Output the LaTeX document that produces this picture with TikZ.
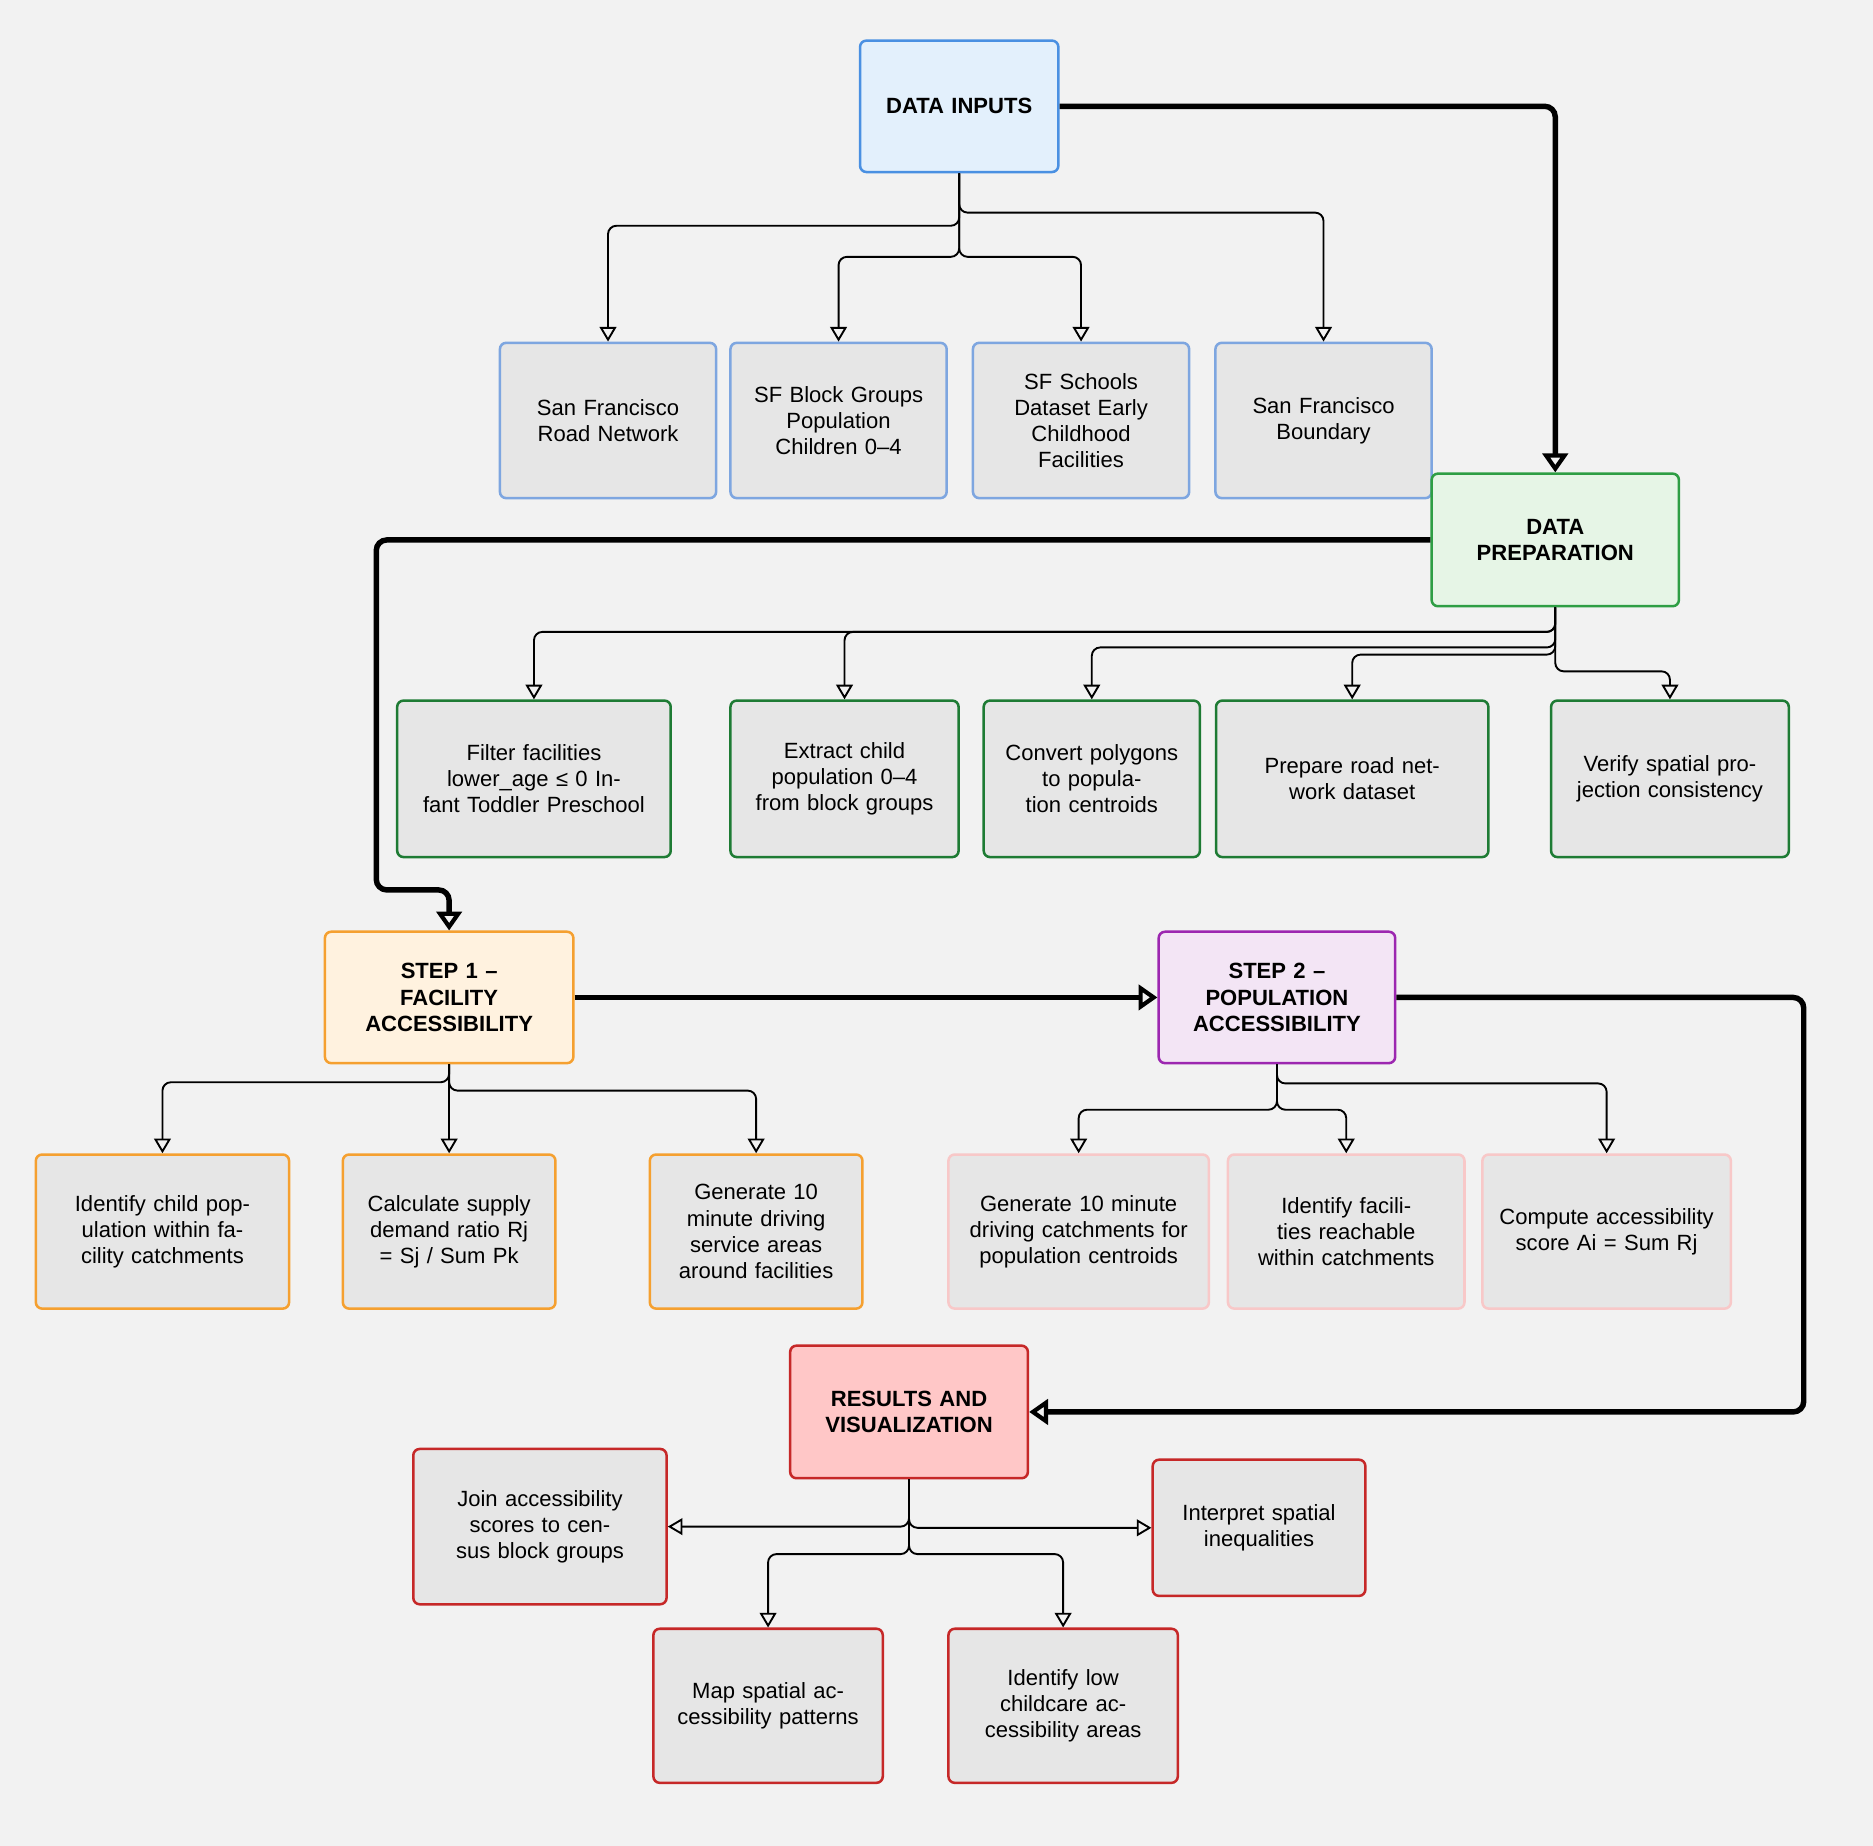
\documentclass[tikz,border=0pt]{standalone}
\usepackage{fontspec}
\setmainfont{Liberation Sans}
\usetikzlibrary{arrows.meta}
\definecolor{bg}{HTML}{F2F2F2}
\definecolor{boxgray}{HTML}{E6E6E6}
\definecolor{inblue}{HTML}{4A90E2}
\definecolor{inblueL}{HTML}{7EA6E0}
\definecolor{infill}{HTML}{E3F0FC}
\definecolor{prepgreen}{HTML}{2E9E44}
\definecolor{prepdark}{HTML}{1E7B34}
\definecolor{prepfill}{HTML}{E6F5E6}
\definecolor{steporange}{HTML}{F5A030}
\definecolor{stepfill}{HTML}{FFF2DF}
\definecolor{steppurple}{HTML}{9C27B0}
\definecolor{purplefill}{HTML}{F3E5F5}
\definecolor{steppink}{HTML}{F8C8C8}
\definecolor{resred}{HTML}{C62828}
\definecolor{resfill}{HTML}{FFC7C7}
\tikzset{
  box/.style 2 args={draw, line width=1.2pt, rounded corners=3pt, fill=boxgray,
    minimum width=#1*0.02cm, minimum height=#2*0.02cm, text width=#1*0.02cm-14pt,
    align=center, inner sep=2pt, font=\fontsize{10.5}{12.5}\selectfont},
  title/.style={font=\fontsize{10.5}{12.5}\selectfont\bfseries},
  link/.style={draw, line width=0.9pt, rounded corners=4pt, -{Triangle[open,length=7pt,width=8pt]}},
  bigflow/.style={draw, line width=2.6pt, rounded corners=5pt, -{Triangle[open,length=9pt,width=12pt,line width=2pt]}}
}
\begin{document}
\begin{tikzpicture}[x=0.02cm,y=-0.02cm]
\fill[bg] (0,0) rectangle (1568,1545);
\useasboundingbox (0,0) rectangle (1568,1545);
% data inputs
\node[box={166}{110}, draw=inblue, fill=infill, title] (inputs) at (803,89) {DATA INPUTS};
\node[box={181}{130}, draw=inblueL] (road) at (509,352) {San Francisco Road Network};
\node[box={181}{130}, draw=inblueL] (block) at (702,352) {SF Block Groups Population Children 0–4};
\node[box={181}{130}, draw=inblueL] (schools) at (905,352) {SF Schools Dataset Early Childhood Facilities};
\node[box={181}{130}, draw=inblueL] (boundary) at (1108,352) {San Francisco Boundary};
% data preparation
\node[box={207}{111}, draw=prepgreen, fill=prepfill, title] (prep) at (1302,452) {DATA\\PREPARATION};
\node[box={229}{131}, draw=prepdark] (filter) at (447,652) {Filter facilities lower\_age ≤ 0 Infant Toddler Preschool};
\node[box={191}{131}, draw=prepdark] (extract) at (707,652) {Extract child population 0–4 from block groups};
\node[box={181}{131}, draw=prepdark] (convert) at (914,652) {Convert polygons to population centroids};
\node[box={228}{131}, draw=prepdark] (roadprep) at (1132,652) {Prepare road network dataset};
\node[box={199}{131}, draw=prepdark] (verify) at (1398,652) {Verify spatial projection consistency};
% steps
\node[box={208}{110}, draw=steporange, fill=stepfill, title] (step1) at (376,835) {STEP 1 –\\FACILITY\\ACCESSIBILITY};
\node[box={198}{110}, draw=steppurple, fill=purplefill, title] (step2) at (1069,835) {STEP 2 –\\POPULATION\\ACCESSIBILITY};
\node[box={212}{129}, draw=steporange] (childpop) at (136,1031) {Identify child population within facility catchments};
\node[box={178}{129}, draw=steporange] (ratio) at (376,1031) {Calculate supply demand ratio Rj = Sj / Sum Pk};
\node[box={178}{129}, draw=steporange] (service) at (633,1031) {Generate 10 minute driving service areas around facilities};
\node[box={218}{129}, draw=steppink] (catch) at (903,1031) {Generate 10 minute driving catchments for population centroids};
\node[box={198}{129}, draw=steppink] (reach) at (1127,1031) {Identify facilities reachable within catchments};
\node[box={208}{129}, draw=steppink] (score) at (1345,1031) {Compute accessibility score Ai = Sum Rj};
% results
\node[box={199}{111}, draw=resred, fill=resfill, title] (results) at (761,1182) {RESULTS AND\\VISUALIZATION};
\node[box={212}{130}, draw=resred] (join) at (452,1278) {Join accessibility scores to census block groups};
\node[box={178}{114}, draw=resred] (interpret) at (1054,1279) {Interpret spatial inequalities};
\node[box={192}{129}, draw=resred] (map) at (643,1428) {Map spatial accessibility patterns};
\node[box={192}{129}, draw=resred] (lowarea) at (890,1428) {Identify low childcare accessibility areas};
% thin links
\draw[link] (inputs.south) |- (509,189) -- (road.north);
\draw[link] (inputs.south) |- (702,215) -- (block.north);
\draw[link] (inputs.south) |- (905,215) -- (schools.north);
\draw[link] (inputs.south) |- (1108,178) -- (boundary.north);
\draw[link] (prep.south) |- (447,529) -- (filter.north);
\draw[link] (prep.south) |- (707,529) -- (extract.north);
\draw[link] (prep.south) |- (914,542) -- (convert.north);
\draw[link] (prep.south) |- (1132,548) -- (roadprep.north);
\draw[link] (prep.south) |- (1398,562) -- (verify.north);
\draw[link] (step1.south) |- (136,906) -- (childpop.north);
\draw[link] (step1.south) -- (ratio.north);
\draw[link] (step1.south) |- (633,913) -- (service.north);
\draw[link] (step2.south) |- (903,929) -- (catch.north);
\draw[link] (step2.south) |- (1127,929) -- (reach.north);
\draw[link] (step2.south) |- (1345,907) -- (score.north);
\draw[link] (results.south) |- (join.east);
\draw[link] (results.south) |- (interpret.west);
\draw[link] (results.south) |- (643,1301) -- (map.north);
\draw[link] (results.south) |- (890,1301) -- (lowarea.north);
% main flow
\draw[bigflow] (inputs.east) -| (prep.north);
\draw[bigflow] (prep.west) -| (315,745) -| (step1.north);
\draw[bigflow] (step1.east) -- (step2.west);
\draw[bigflow] (step2.east) -| (1510,1182) -- (results.east);
\end{tikzpicture}
\end{document}
